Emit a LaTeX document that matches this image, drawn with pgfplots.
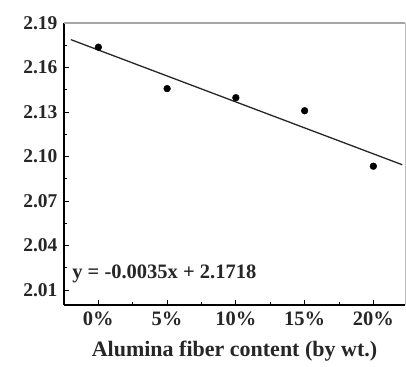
\documentclass[border=0pt]{standalone}
\usepackage{pgfplots}
\pgfplotsset{compat=1.18}
\usepackage{fontspec}
\setmainfont{Liberation Serif}
\begin{document}
\begin{tikzpicture}
\begin{axis}[
  scale only axis, width=341pt, height=282pt,
  xmin=-2.5, xmax=22.3, ymin=2.0, ymax=2.19,
  axis x line*=bottom, axis y line*=left,
  axis line style={black, line width=1.6pt, -},
  xtick={0,5,10,15,20},
  xticklabels={0\%,5\%,10\%,15\%,20\%},
  minor xtick={2.5,7.5,12.5,17.5},
  ytick={2.01,2.04,2.07,2.10,2.13,2.16,2.19},
  yticklabels={2.01,2.04,2.07,2.10,2.13,2.16,2.19},
  minor ytick={2.025,2.055,2.085,2.115,2.145,2.175},
  /pgf/number format/assume math mode=true,
  tick align=inside,
  major tick length=5pt, minor tick length=3pt,
  tick style={black, line width=0.9pt},
  ticklabel style={font=\fontsize{19.5}{22}\selectfont\bfseries, black!85},
  yticklabel style={xshift=-3pt},
  xticklabel style={yshift=-3pt, font=\fontsize{20.5}{22}\selectfont\bfseries},
  xlabel={Alumina fiber content (by wt.)},
  xlabel style={font=\fontsize{22}{24}\selectfont\bfseries, black!85, yshift=-9pt},
  clip=false,
]
\path (rel axis cs:-0.1877,-0.2199) rectangle (rel axis cs:1.003,1.0816);
\draw[gray!70, line width=2pt] (rel axis cs:0,1) -- (rel axis cs:1,1);
\draw[gray!50, line width=0.6pt] (rel axis cs:1,0) -- (rel axis cs:1,1);
\addplot[black!85, line width=1.3pt] coordinates {(-2.0,2.1788) (22.1,2.0945)};
\addplot[only marks, mark=*, mark size=3.4pt, black] coordinates {
  (0,2.1737) (5,2.1458) (10,2.1397) (15,2.1309) (20,2.0935)};
\node[anchor=west, black!85, font=\fontsize{20.5}{22}\selectfont\bfseries] at (axis cs:-2.15,2.0208) {y = -0.0035x + 2.1718};
\end{axis}
\end{tikzpicture}
\end{document}
